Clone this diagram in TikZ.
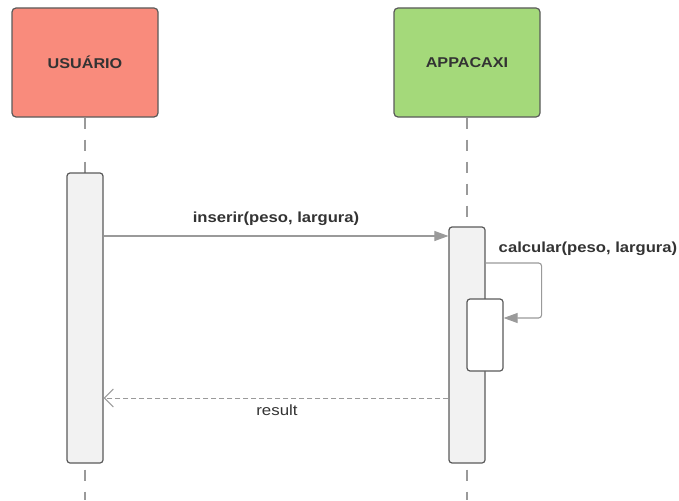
\documentclass[tikz,border=0pt]{standalone}
\usepackage{fontspec}
\setmainfont{Liberation Sans}[FakeStretch=1.14]
\usetikzlibrary{arrows.meta,calc}
\definecolor{salmon}{HTML}{F98B7C}
\definecolor{lgreen}{HTML}{A4D97A}
\definecolor{bord}{HTML}{5A5A5A}
\definecolor{actfill}{HTML}{F2F2F2}
\definecolor{arr}{HTML}{9A9A9A}
\definecolor{txt}{HTML}{333333}
\tikzset{
  actor/.style={draw=bord, line width=1.2pt, rounded corners=4pt, minimum width=146pt, minimum height=109pt, inner sep=0pt, font=\fontsize{14.2}{16}\selectfont\bfseries, text=txt},
  actbox/.style={draw=bord, line width=1.2pt, rounded corners=3pt, fill=actfill, minimum width=36pt, inner sep=0pt},
  lifeline/.style={draw=arr, line width=1.1pt, dash pattern=on 11pt off 11pt},
  msg/.style={draw=arr, line width=1.1pt, -{Triangle[length=14pt,width=10pt]}},
  ret/.style={draw=arr, line width=1pt, dash pattern=on 5pt off 3pt, -{Straight Barb[length=9pt,width=18pt]}},
  lbl/.style={font=\fontsize{14.6}{17}\selectfont\bfseries, text=txt, inner sep=0pt},
  rlbl/.style={font=\fontsize{14.8}{17}\selectfont, text=txt, inner sep=0pt}
}
\begin{document}
\begin{tikzpicture}[x=1pt,y=-1pt]
\useasboundingbox (0,0) rectangle (679,500);
\node[actor, fill=salmon] (u) at (85,62.5) {USUÁRIO};
\node[actor, fill=lgreen] (a) at (467,62.5) {APPACAXI};
\coordinate (ue) at (85,500);
\coordinate (ae) at (467,500);
\draw[lifeline] (u.south) -- (ue);
\draw[lifeline] (a.south) -- (ae);
\node[actbox, minimum height=290pt] (ua) at (85,318) {};
\node[actbox, minimum height=236pt] (aa) at (467,345) {};
\node[actbox, fill=white, minimum height=72pt] (nb) at (485,335) {};
\coordinate (m1) at (0,236);
\coordinate (m2) at (0,263);
\coordinate (m3) at (0,318);
\coordinate (m4) at (0,398);
\draw[msg] (ua.east |- m1) -- (aa.west |- m1);
\node[lbl] (l1) at (276,219) {inserir(peso, largura)};
\draw[msg, rounded corners=3pt] (aa.east |- m2) -- ++(56,0) |- (nb.east |- m3);
\node[lbl] (l2) at (588,249) {calcular(peso, largura)};
\draw[ret] (aa.west |- m4) -- (ua.east |- m4);
\node[rlbl] (l3) at (277,410) {result};
\end{tikzpicture}
\end{document}
